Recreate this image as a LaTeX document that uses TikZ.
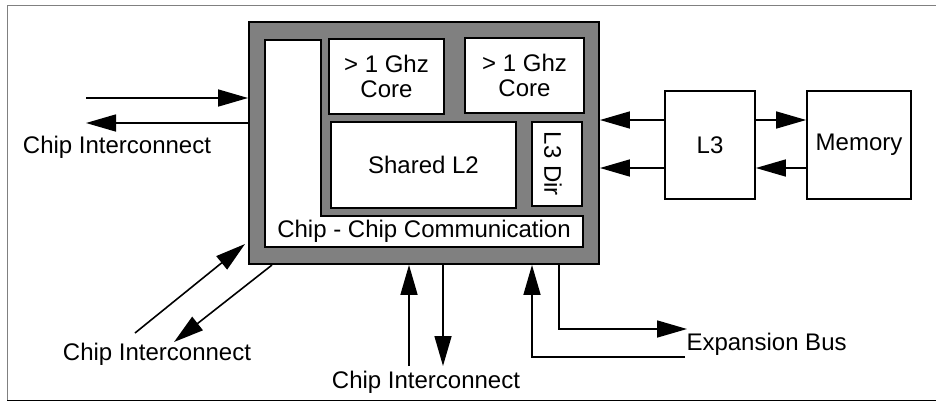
\documentclass[tikz,border=0pt]{standalone}
\usepackage{fontspec}
\setmainfont{Liberation Sans}
\usetikzlibrary{positioning, calc, arrows.meta}

\begin{document}
\begin{tikzpicture}[
    x=1pt, y=-1pt,
    chipstyle/.style={
        draw=black,
        fill=gray,
        line width=1.9pt
    },
    unitbox/.style={
        draw=black,
        fill=white,
        line width=1.7pt,
        align=center,
        inner sep=0pt
    },
    arrow/.style={
        -{Triangle[length=30pt, width=17pt]},
        line width=1.6pt
    },
    font=\fontsize{24}{25}\selectfont
]

\useasboundingbox (0,0) rectangle (936,402);

% Page frame (right edge cut off)
\draw[gray, line width=1pt] (7,400) -- (7,5) -- (936,5);
\draw[black, line width=1pt] (7,400) -- (936,400);

% Chip body
\node[chipstyle, minimum width=350pt, minimum height=242pt] (chip) at (424,143) {};

% L-shaped communication block
\filldraw[unitbox] (265,40) -- (321,40) -- (321,216) -- (583,216)
    -- (583,247) -- (265,247) -- cycle;
\node (comm) at (424,231.5) {Chip - Chip Communication};

% Units on the chip
\node[unitbox, minimum width=115pt, minimum height=75pt] (coreA) at (386.5,76.5) {> 1 Ghz\\Core};
\node[unitbox, minimum width=119pt, minimum height=75pt] (coreB) at (524.5,75.5) {> 1 Ghz\\Core};
\node[unitbox, minimum width=185pt, minimum height=86pt] (sharedL) at (423.5,165) {Shared L2};
\node[unitbox, minimum width=50pt, minimum height=84pt] (ldir) at (557,164) {};
\node[rotate=-90] (ldirtext) at ([xshift=-4pt]ldir.center) {L3 Dir};

% Off-chip boxes
\node[unitbox, minimum width=90pt, minimum height=108pt] (lthree) at (710,145) {L3};
\node[unitbox, minimum width=104pt, minimum height=108pt] (memory) at (859,145) {Memory};

% Left interconnect
\coordinate (inA) at (86,98);
\coordinate (outA) at (86,123);
\draw[arrow] (inA) -- (inA -| chip.west);
\draw[arrow] (outA -| chip.west) -- (outA);
\node[anchor=base] (ciLeft) at (117,153) {Chip Interconnect};

% Diagonal interconnect
\coordinate (dgIn) at (135,333);
\coordinate (dgTip) at (245,244);
\coordinate (dgOut) at (272,265);
\coordinate (dgEnd) at (174,342);
\draw[arrow] (dgIn) -- (dgTip);
\draw[arrow] (dgOut) -- (dgEnd);
\node[anchor=base] (ciDiag) at (157,360) {Chip Interconnect};

% Bottom interconnect
\coordinate (upA) at (409,366);
\coordinate (dnA) at (443,366);
\draw[arrow] (upA) -- (upA |- chip.south);
\draw[arrow] (dnA |- chip.south) -- (dnA);
\node[anchor=base] (ciBottom) at (426,388) {Chip Interconnect};

% Expansion bus
\coordinate (busIn) at (685,357);
\coordinate (busUp) at (532,357);
\coordinate (busDown) at (559,329);
\coordinate (busOut) at (687,329);
\draw[arrow] (busIn) -- (busUp) -- (busUp |- chip.south);
\draw[arrow] (busDown |- chip.south) -- (busDown) -- (busOut);
\node[anchor=base west] (expbus) at (683,350) {Expansion Bus};

% L3 and memory links
\coordinate (rA) at (0,120);
\coordinate (rB) at (0,168);
\draw[arrow] (lthree.west |- rA) -- (chip.east |- rA);
\draw[arrow] (lthree.west |- rB) -- (chip.east |- rB);
\draw[arrow] (lthree.east |- rA) -- (memory.west |- rA);
\draw[arrow] (memory.west |- rB) -- (lthree.east |- rB);

\end{tikzpicture}
\end{document}
